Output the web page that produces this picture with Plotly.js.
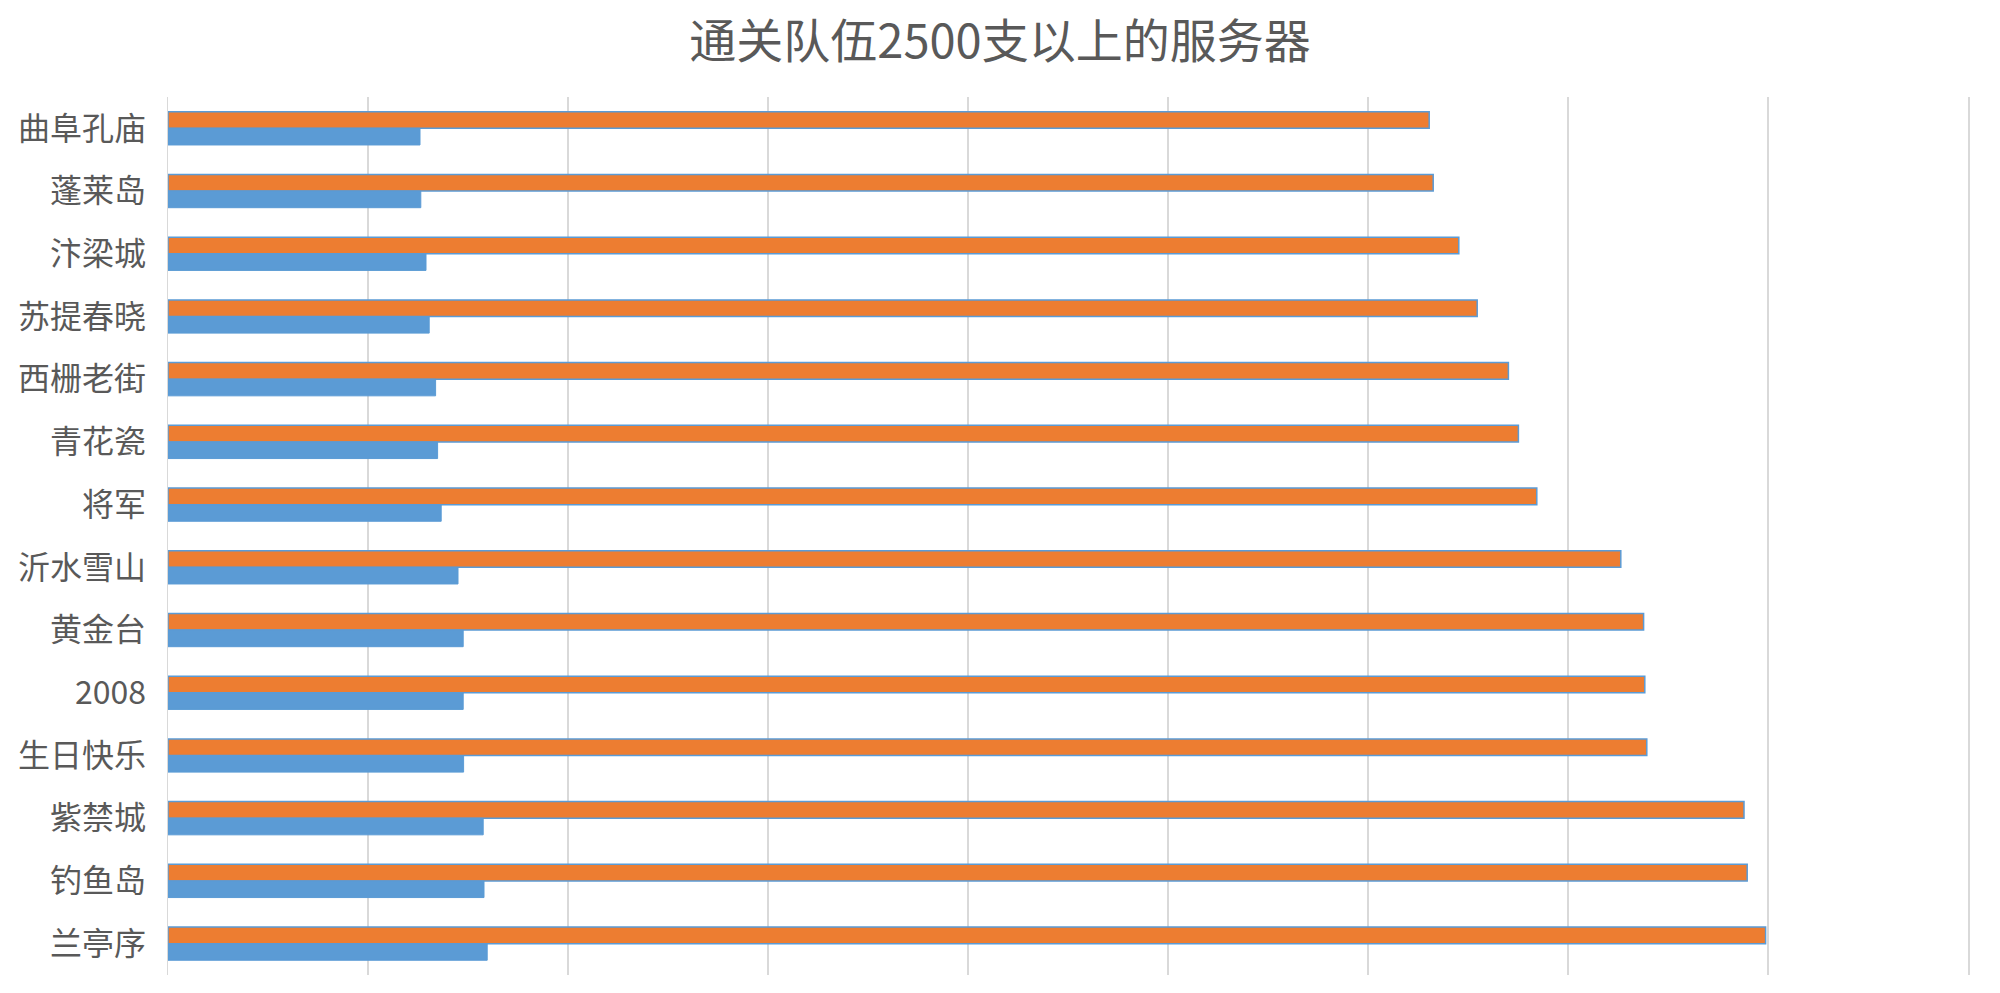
<!DOCTYPE html>
<html>
<head>
<meta charset="utf-8">
<script src="https://cdn.plot.ly/plotly-3.0.1.min.js"></script>
<style>
  html, body { margin: 0; padding: 0; background: #fff; }
  #chart { width: 2000px; height: 993px; }
</style>
</head>
<body>
<div id="chart"></div>
<script>
// servers, top to bottom
const servers = ['曲阜孔庙', '蓬莱岛', '汴梁城', '苏提春晓', '西栅老街', '青花瓷', '将军',
    '沂水雪山', '黄金台', '2008', '生日快乐', '紫禁城', '钓鱼岛', '兰亭序'];

// values (grid step 500)
const orangeValues = [3153, 3163, 3227, 3273, 3351, 3376, 3422, 3632, 3689, 3692, 3697, 3940, 3948, 3994];
const blueValues = [630, 632, 645, 653, 669, 674, 683, 725, 738, 738, 739, 788, 790, 798];

const font = '"Noto Sans CJK SC", "Noto Sans", sans-serif';

const traces = [
    {
        type: 'bar',
        orientation: 'h',
        y: servers,
        x: orangeValues,
        name: 'orange',
        marker: { color: '#ed7d31', line: { color: '#5b9bd5', width: 1.5 } },
        hoverinfo: 'x+y'
    },
    {
        type: 'bar',
        orientation: 'h',
        y: servers,
        x: blueValues,
        name: 'blue',
        marker: { color: '#5b9bd5', line: { color: '#5b9bd5', width: 1 } },
        hoverinfo: 'x+y'
    }
];

const layout = {
    width: 2000,
    height: 993,
    margin: { l: 168, r: 32, t: 97, b: 18 },
    paper_bgcolor: '#FFFFFF',
    plot_bgcolor: '#FFFFFF',
    showlegend: false,
    barmode: 'group',
    bargap: 0.47,
    bargroupgap: 0,
    title: {
        text: '通关队伍2500支以上的服务器',
        x: 0.5,
        xref: 'container',
        xanchor: 'center',
        y: 0.958,
        yref: 'container',
        yanchor: 'middle',
        font: { family: font, size: 47, color: '#595959' }
    },
    xaxis: {
        range: [0, 4500],
        dtick: 500,
        showticklabels: false,
        showgrid: true,
        gridcolor: '#d9d9d9',
        gridwidth: 1.5,
        zeroline: false,
        showline: false,
        ticks: ''
    },
    yaxis: {
        type: 'category',
        autorange: 'reversed',
        showgrid: false,
        zeroline: false,
        // left and right edge grid lines
        showline: true,
        mirror: true,
        linecolor: '#d9d9d9',
        linewidth: 1.5,
        ticks: '',
        ticklabelstandoff: 14,
        tickfont: { family: font, size: 32, color: '#595959' }
    }
};

Plotly.newPlot('chart', traces, layout, { displayModeBar: false, staticPlot: true });
</script>
</body>
</html>
